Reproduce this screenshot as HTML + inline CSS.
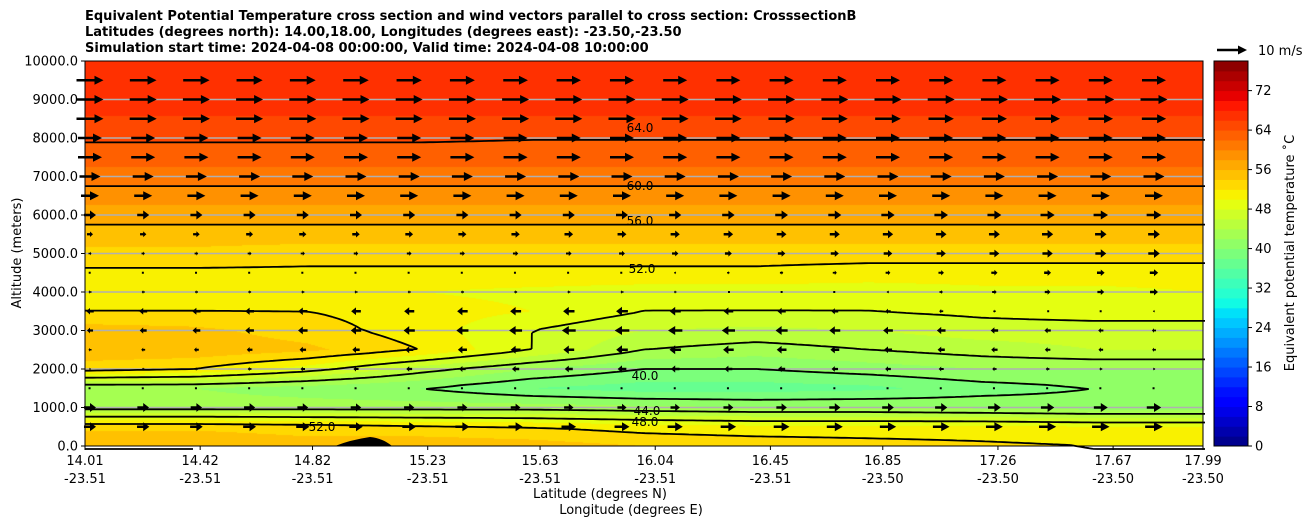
<!DOCTYPE html>
<html><head><meta charset="utf-8">
<style>
body{margin:0;background:#fff;font-family:"DejaVu Sans",sans-serif;}
#wrap{position:relative;width:1308px;height:526px;overflow:hidden;}
.t{position:absolute;font-size:13px;color:#000;white-space:nowrap;}
.b{font-weight:bold;}
</style></head><body>
<div id="wrap">
<div class="t b" style="left:85px;top:9px">Equivalent Potential Temperature cross section and wind vectors parallel to cross section: CrosssectionB</div>
<div class="t b" style="left:85px;top:25px">Latitudes (degrees north): 14.00,18.00, Longitudes (degrees east): -23.50,-23.50</div>
<div class="t b" style="left:85px;top:41px">Simulation start time: 2024-04-08 00:00:00, Valid time: 2024-04-08 10:00:00</div>
<canvas id="cv" width="1118" height="385" style="position:absolute;left:85px;top:61px"></canvas>
<svg id="sv" width="1308" height="526" style="position:absolute;left:0;top:0"></svg>
</div>
<script>
const lats=[14.0,14.4,14.8,15.2,15.6,16.0,16.4,16.8,17.2,17.6,18.0];
const alts=[0,500,1000,1500,2000,2500,3000,3500,4000,4500,5000,5500,6000,6500,7000,7500,8000,8500,9000,9500,10000];
const theta=[
[56,56,55,55.5,55,54,53.5,53,52.5,52,52],
[53.5,53.5,53,52.5,52,51,50.5,50.5,50.5,50,50],
[43,43,43,43,43,42.5,42,42,41.5,41,41],
[42,42,41,40,38,37,37,37.5,39,40,40],
[53,52,49,45,42,40,40,41,42,42,42],
[55.5,55.5,54.5,52,48,44,43,44,45,46,46],
[55,54.5,53,51,48,46,45.5,46,47,47,47],
[52,52,52,51,50,48,48,48,48.5,49,49],
[50.5,50.5,50.5,50,49.5,49,49,49,49.5,49.5,50],
[51.5,51.5,51.5,51.5,51.5,51.5,51.5,51,51,51,51],
[53.5,53.5,53,53,53,53,53,53,53,53,53],
[55,55,55,55,55,55,55,55,55,55,55],
[57,57,57,57,57,57,57,57,57,57,57],
[59,59,59,59,59,59,59,59,59,59,59],
[61,61,61,61,61,61,61,61,61,61,61],
[63,63,63,63,63,63,63,63,63,63,63],
[64.3,64.3,64.3,64.3,64.1,64.1,64.1,64.1,64.1,64.1,64.1],
[65.8,65.8,65.8,65.8,65.8,65.8,65.8,65.8,65.8,65.8,65.8],
[67,67,67,67,67,67,67,67,67,67,67],
[67.5,67.5,67.5,67.5,67.5,67.5,67.5,67.5,67.5,67.5,67.5],
[67.8,67.8,67.8,67.8,67.8,67.8,67.8,67.8,67.8,67.8,67.8]];
const windAlts=[500,1000,1500,2000,2500,3000,3500,4000,4500,5000,5500,6000,6500,7000,7500,8000,8500,9000,9500];
const uLeft=[4,4,0.3,-0.5,-1,-2,-2.5,-1,0.2,1,2,4,6,7,8,8,9,9,9];
const uMid=[5,3,0.3,-3,-4,-5,-4,-1,0.5,2,3,4,6,7,8,8,9,9,8];
const uRight=[6,5,0.3,-0.5,-1,-1,1,3,3,4,4,5,6,7,8,8,8,9,8];
const contourLevels=[40,44,48,52,56,60,64];
const yTicks=[0,1000,2000,3000,4000,5000,6000,7000,8000,9000,10000];
const xTickLat=["14.01","14.42","14.82","15.23","15.63","16.04","16.45","16.85","17.26","17.67","17.99"];
const xTickLon=["-23.51","-23.51","-23.51","-23.51","-23.51","-23.51","-23.51","-23.50","-23.50","-23.50","-23.50"];
const cbTicks=[0,8,16,24,32,40,48,56,64,72];

const FONT='DejaVu Sans, sans-serif';
const X0=85,X1=1203,Y0=446,Y1=61,LAT0=14.01,LAT1=17.99,CBMAX=78;
const sx=l=>X0+(l-LAT0)/(LAT1-LAT0)*(X1-X0);
const sy=a=>Y0-a/10000*(Y0-Y1);
function seg(p,x){for(let i=0;i<p.length-1;i++){if(x<=p[i+1][0]){const t=(x-p[i][0])/(p[i+1][0]-p[i][0]);return p[i][1]+t*(p[i+1][1]-p[i][1]);}}return p[p.length-1][1];}
const JR=[[0,0],[0.35,0],[0.66,1],[0.89,1],[1,0.5]],JG=[[0,0],[0.125,0],[0.375,1],[0.64,1],[0.91,0],[1,0]],JB=[[0,0.5],[0.11,1],[0.34,1],[0.65,0],[1,0]];
function jet(x){x=Math.max(0,Math.min(1,x));return [seg(JR,x)*255|0,seg(JG,x)*255|0,seg(JB,x)*255|0];}
function bandColor(v){const b=Math.max(0,Math.min(38,Math.floor(v/2)));return jet((b+0.5)/39);}
function field(lat,alt){
 let fi=(lat-lats[0])/(lats[1]-lats[0]);fi=Math.max(0,Math.min(lats.length-1.0001,fi));
 let fj=(alt-alts[0])/(alts[1]-alts[0]);fj=Math.max(0,Math.min(alts.length-1.0001,fj));
 const i=Math.floor(fi),j=Math.floor(fj),a=fi-i,b=fj-j;
 return theta[j][i]*(1-a)*(1-b)+theta[j][i+1]*a*(1-b)+theta[j+1][i]*(1-a)*b+theta[j+1][i+1]*a*b;}
const latOf=px=>LAT0+(px-X0)/(X1-X0)*(LAT1-LAT0);
const altOf=py=>(Y0-py)/(Y0-Y1)*10000;
const cv=document.getElementById('cv'),ctx=cv.getContext('2d');
const W=cv.width,H=cv.height,img=ctx.createImageData(W,H);
for(let y=0;y<H;y++){const al=altOf(Y1+y+0.5);for(let x=0;x<W;x++){const c=bandColor(field(latOf(X0+x+0.5),al));const k=(y*W+x)*4;img.data[k]=c[0];img.data[k+1]=c[1];img.data[k+2]=c[2];img.data[k+3]=255;}}
ctx.putImageData(img,0,0);
const NS='http://www.w3.org/2000/svg',sv=document.getElementById('sv');
function mk(t,at,par){const e=document.createElementNS(NS,t);for(const k in at)e.setAttribute(k,at[k]);(par||sv).appendChild(e);return e;}
const gg=mk('g',{});


yTicks.forEach(a=>{if(a>0&&a<10000){mk('line',{x1:X0,x2:X1,y1:sy(a),y2:sy(a),stroke:'#b0b0b0','stroke-width':1.5},gg);}});
const terr=mk('path',{d:`M335,446 Q350,440 370,437 Q382,438 392,446 Z`,fill:'#000'});


const cg=mk('g',{fill:'none',stroke:'#000','stroke-width':1.8});


const st=4,nx=Math.ceil((X1-X0)/st)+1,ny=Math.ceil((Y0-Y1)/st)+1,F=[];
for(let j=0;j<ny;j++){F.push([]);for(let i=0;i<nx;i++){F[j].push(field(latOf(X0+Math.min(i*st,X1-X0)),altOf(Y1+Math.min(j*st,Y0-Y1))));}}
contourLevels.forEach(L=>{let d='';
 for(let j=0;j<ny-1;j++)for(let i=0;i<nx-1;i++){
  const v=[F[j][i],F[j][i+1],F[j+1][i+1],F[j+1][i]],px=[X0+i*st,X0+(i+1)*st,X0+(i+1)*st,X0+i*st],py=[Y1+j*st,Y1+j*st,Y1+(j+1)*st,Y1+(j+1)*st];
  const pts=[];for(let e=0;e<4;e++){const a=v[e],b=v[(e+1)%4];if((a<L)!==(b<L)){const t=(L-a)/(b-a);pts.push([px[e]+t*(px[(e+1)%4]-px[e]),py[e]+t*(py[(e+1)%4]-py[e])]);}}
  for(let k=0;k+1<pts.length;k+=2)d+=`M${pts[k][0].toFixed(1)},${pts[k][1].toFixed(1)}L${pts[k+1][0].toFixed(1)},${pts[k+1][1].toFixed(1)}`;}
 const p=mk('path',{d:d},cg);
 
 });
const labs=[[640,128,'64.0'],[640,186,'60.0'],[640,221,'56.0'],[642,269,'52.0'],[645,376,'40.0'],[647,411,'44.0'],[645,422,'48.0'],[322,427,'52.0']];
labs.forEach(l=>{const t=mk('text',{x:l[0],y:l[1]+4,'font-size':12,'text-anchor':'middle','font-family':FONT});t.textContent=l[2];
 
 });
const ag=mk('g',{fill:'#000'});


const PXPERMS=3.0;
function arrow(x,y,u,par){const L=u*PXPERMS,A=Math.abs(L);if(A<1.5){return mk('rect',{x:x-1,y:y-1,width:2,height:2},par);}
 const s=Math.sign(L),hl=Math.min(9,A*0.5),hw=Math.min(4.5,A*0.3+1),sw=Math.min(1.3,A*0.1+0.5),x2=x+L,xb=x2-s*hl;
 return mk('path',{d:`M${x},${y-sw}L${xb},${y-sw}L${xb},${y-hw}L${x2},${y}L${xb},${y+hw}L${xb},${y+sw}L${x},${y+sw}Z`},par);}
for(let c=0;c<21;c++){const x=90+c*53.2;const f=(x-X0)/(X1-X0);
 windAlts.forEach((a,r)=>{const u=f<0.5?uLeft[r]+(uMid[r]-uLeft[r])*f*2:uMid[r]+(uRight[r]-uMid[r])*(f-0.5)*2;
  const e=arrow(x-u*PXPERMS/2,sy(a),u,ag);
  
  });}
const fr=mk('rect',{x:X0,y:Y1,width:X1-X0,height:Y0-Y1,fill:'none',stroke:'#000','stroke-width':1});


const yax=mk('g',{'font-size':13,'font-family':FONT});


yTicks.forEach(a=>{mk('line',{x1:X0-4,x2:X0,y1:sy(a),y2:sy(a),stroke:'#000'},yax);const t=mk('text',{x:X0-7,y:sy(a)+4.5,'text-anchor':'end'},yax);t.textContent=a.toFixed(1);
 
 });
const xax=mk('g',{'font-size':13,'font-family':FONT,'text-anchor':'middle'});


xTickLat.forEach((l,i)=>{const x=sx(parseFloat(l));mk('line',{x1:x,x2:x,y1:Y0,y2:Y0+4,stroke:'#000'},xax);
 const t1=mk('text',{x:x,y:465},xax);t1.textContent=l;
 
 
 const t2=mk('text',{x:x,y:483},xax);t2.textContent=xTickLon[i];
 
 });
const xt1=mk('text',{x:600,y:498,'font-size':13,'text-anchor':'middle','font-family':FONT});xt1.textContent='Latitude (degrees N)';


const xt2=mk('text',{x:631,y:514,'font-size':13,'text-anchor':'middle','font-family':FONT});xt2.textContent='Longitude (degrees E)';


const yt=mk('text',{x:0,y:0,'font-size':13,'text-anchor':'middle','font-family':FONT,transform:'translate(21,253) rotate(-90)'});yt.textContent='Altitude (meters)';


const cb=mk('g',{});


const CX=1214,CW=34,cy=v=>Y0-v/CBMAX*(Y0-Y1);
for(let b=0;b<39;b++){const c=jet((b+0.5)/39);mk('rect',{x:CX,y:cy(b*2+2),width:CW,height:cy(b*2)-cy(b*2+2)+0.5,fill:`rgb(${c[0]},${c[1]},${c[2]})`},cb);}
mk('rect',{x:CX,y:Y1,width:CW,height:Y0-Y1,fill:'none',stroke:'#000'},cb);
cbTicks.forEach(v=>{mk('line',{x1:CX+CW,x2:CX+CW+4,y1:cy(v),y2:cy(v),stroke:'#000'},cb);const t=mk('text',{x:CX+CW+7,y:cy(v)+4.5,'font-size':13,'font-family':FONT},cb);t.textContent=v;
 
 });
const ct=mk('text',{x:0,y:0,'font-size':13,'text-anchor':'middle','font-family':FONT,transform:'translate(1294,253) rotate(-90)'});ct.textContent='Equivalent potential temperature \u02daC';


const qk=mk('g',{});


arrow(1217,50,10,qk);
const qt=mk('text',{x:1258,y:55,'font-size':13,'font-family':FONT},qk);qt.textContent='10 m/s';
</script>
</body></html>
